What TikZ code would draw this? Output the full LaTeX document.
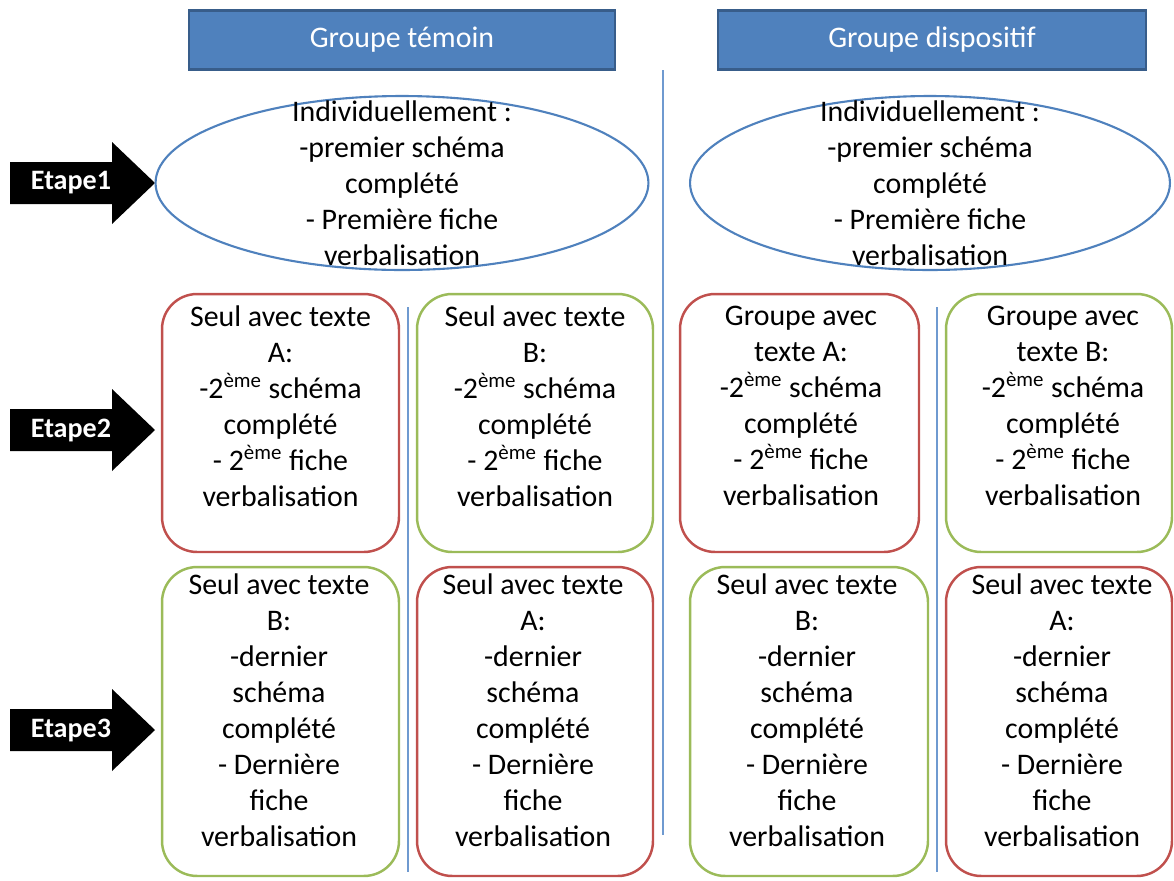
\documentclass[tikz,border=0pt]{standalone}
\usepackage{fontspec}
\setmainfont{Carlito}
\usepackage{tikz}
\usetikzlibrary{calc}
\definecolor{hdrblue}{HTML}{4F81BD}
\definecolor{hdrdark}{HTML}{385D8A}
\definecolor{boxred}{HTML}{C0504D}
\definecolor{boxgreen}{HTML}{9BBB59}
\definecolor{sepblue}{HTML}{6F9AD0}
\def\etape(#1)#2#3{\fill[black] ($(#1)+(-145,-21)$) -- ($(#1)+(-43,-21)$) -- ($(#1)+(-43,-41)$) -- (#1) -- ($(#1)+(-43,41)$) -- ($(#1)+(-43,21)$) -- ($(#1)+(-145,21)$) -- cycle;
	\node[etapetxt] (#2) at ($(#1)+(-84,0)$) {#3};}
\tikzset{
	x=0.02cm, y=-0.02cm,
	txt/.style={align=center, font=\fontsize{17}{20.5}\selectfont, inner sep=0pt},
	header/.style={draw=hdrdark, fill=hdrblue, line width=1.2pt, minimum width=8.52cm, minimum height=1.18cm, text=white, font=\fontsize{17}{20.5}\selectfont},
	etapetxt/.style={text=white, font=\bfseries\fontsize{16}{19}\selectfont, inner sep=0pt},
	oval/.style={draw=hdrblue, line width=1.2pt, ellipse, minimum height=3.48cm},
	redbox/.style={draw=boxred, line width=1.4pt, rounded corners=0.7cm},
	greenbox/.style={draw=boxgreen, line width=1.4pt, rounded corners=0.7cm},
	sep/.style={draw=sepblue, line width=0.6pt}
}
\usetikzlibrary{shapes.geometric}
\begin{document}
\begin{tikzpicture}
		%%%%% START %%%%%
		\useasboundingbox (0,0) rectangle (1174,880);
		
		\node[header] (temoin) at (402,40) {Groupe témoin};
		\node[header, minimum width=8.56cm] (dispo) at (932,40) {Groupe dispositif};
		
		\coordinate (midtop) at (663,70);
		\coordinate (midbot) at (663,835);
		\draw[sep] (midtop) -- (midbot);
		\coordinate (ltop) at (408,307);
		\coordinate (lbot) at (408,872);
		\draw[sep] (ltop) -- (lbot);
		\coordinate (rtop) at (937,307);
		\coordinate (rbot) at (937,872);
		\draw[sep] (rtop) -- (rbot);
		
		\etape(155,183){e1}{Etape1}
		\etape(155,430){e2}{Etape2}
		\etape(155,730){e3}{Etape3}
		
		% etape 1
		\node[oval, minimum width=9.86cm] (ov1) at (402,183) {};
		\node[txt] (t1) at (402,183) {Individuellement :\\-premier schéma\\complété\\- Première fiche\\verbalisation};
		\node[oval, minimum width=9.6cm] (ov2) at (930,183) {};
		\node[txt] (t2) at (930,183) {Individuellement :\\-premier schéma\\complété\\- Première fiche\\verbalisation};
		
		% etape 2
		\node[redbox, minimum width=4.74cm, minimum height=5.16cm] (b21) at (280.5,423) {};
		\node[txt] (t21) at (280.5,406) {Seul avec texte\\A:\\-2\textsuperscript{ème} schéma\\complété\\- 2\textsuperscript{ème} fiche\\verbalisation};
		\node[greenbox, minimum width=4.72cm, minimum height=5.16cm] (b22) at (535,423) {};
		\node[txt] (t22) at (535,406) {Seul avec texte\\B:\\-2\textsuperscript{ème} schéma\\complété\\- 2\textsuperscript{ème} fiche\\verbalisation};
		\node[redbox, minimum width=4.78cm, minimum height=5.16cm] (b23) at (799.5,423) {};
		\node[txt] (t23) at (801,406) {Groupe avec\\texte A:\\-2\textsuperscript{ème} schéma\\complété\\- 2\textsuperscript{ème} fiche\\verbalisation};
		\node[greenbox, minimum width=4.52cm, minimum height=5.16cm] (b24) at (1059,423) {};
		\node[txt] (t24) at (1063,406) {Groupe avec\\texte B:\\-2\textsuperscript{ème} schéma\\complété\\- 2\textsuperscript{ème} fiche\\verbalisation};
		
		% etape 3
		\node[greenbox, minimum width=4.74cm, minimum height=6.18cm] (b31) at (280.5,721.5) {};
		\node[txt] (t31) at (279,710) {Seul avec texte\\B:\\-dernier\\schéma\\complété\\- Dernière\\fiche\\verbalisation};
		\node[redbox, minimum width=4.72cm, minimum height=6.18cm] (b32) at (535,721.5) {};
		\node[txt] (t32) at (533,710) {Seul avec texte\\A:\\-dernier\\schéma\\complété\\- Dernière\\fiche\\verbalisation};
		\node[greenbox, minimum width=4.76cm, minimum height=6.18cm] (b33) at (809,721.5) {};
		\node[txt] (t33) at (807,710) {Seul avec texte\\B:\\-dernier\\schéma\\complété\\- Dernière\\fiche\\verbalisation};
		\node[redbox, minimum width=4.52cm, minimum height=6.18cm] (b34) at (1059,721.5) {};
		\node[txt] (t34) at (1062,710) {Seul avec texte\\A:\\-dernier\\schéma\\complété\\- Dernière\\fiche\\verbalisation};
		
		%%%%% END %%%%%
	\end{tikzpicture}
\end{document}
